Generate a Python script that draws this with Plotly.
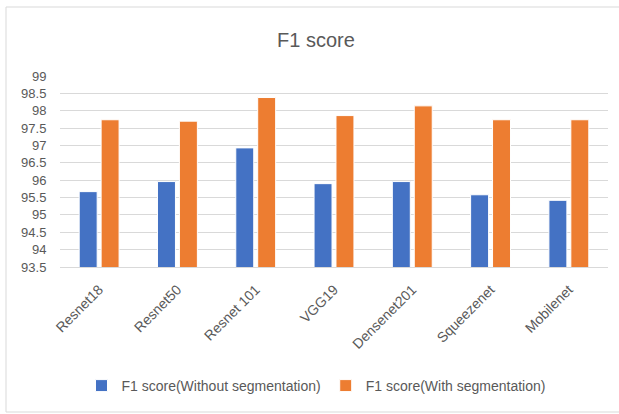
import plotly.graph_objects as go

models = ["Resnet18", "Resnet50", "Resnet 101", "VGG19", "Densenet201", "Squeezenet", "Mobilenet"]
f1_without_seg = [95.67, 95.96, 96.93, 95.90, 95.96, 95.58, 95.42]
f1_with_seg = [97.74, 97.70, 98.38, 97.86, 98.14, 97.74, 97.74]

W, H = 619, 414
ml, mr, mt, mb = 60, 11, 76, 147
font = "Liberation Sans"
grey = "#595959"
frame = "#D9D9D9"

fig = go.Figure()
fig.add_trace(go.Bar(
    x=models, y=f1_without_seg, name="F1 score(Without segmentation)",
    marker=dict(color="#4472C4", line=dict(color="#FFFFFF", width=1)),
))
fig.add_trace(go.Bar(
    x=models, y=f1_with_seg, name="F1 score(With segmentation)",
    marker=dict(color="#ED7D31", line=dict(color="#FFFFFF", width=1)),
))

pw = W - ml - mr
ph = H - mt - mb

# chart-area frame (top, left and bottom edges; right edge lies beyond the view)
fx0, fx1 = (6 - ml) / pw, (W + 30 - ml) / pw
fy0, fy1 = (mt + ph - 412) / ph, (mt + ph - 7) / ph
frame_lines = [
    dict(x0=fx0, x1=fx1, y0=fy1, y1=fy1),
    dict(x0=fx0, x1=fx1, y0=fy0, y1=fy0),
    dict(x0=fx0, x1=fx0, y0=fy0, y1=fy1),
]
shapes = [dict(type="line", xref="paper", yref="paper", layer="below",
               line=dict(color=frame, width=1), **s) for s in frame_lines]

fig.update_layout(
    width=W, height=H,
    margin=dict(l=ml, r=mr, t=mt, b=mb),
    paper_bgcolor="white", plot_bgcolor="white",
    barmode="group", bargap=0.44, bargroupgap=0.18,
    font=dict(family=font, color=grey, size=13),
    title=dict(text="F1 score", font=dict(family=font, size=20, color=grey),
               x=(316 - ml) / pw, xref="paper", xanchor="center",
               y=1 - 40 / H, yref="container", yanchor="middle"),
    legend=dict(orientation="h", x=(316 - ml) / pw, xanchor="center",
                y=(mt + ph - 386) / ph, yanchor="middle",
                font=dict(size=14, color=grey), itemwidth=30,
                traceorder="normal"),
    xaxis=dict(tickangle=-45, showgrid=False, showline=True, linecolor=frame,
               linewidth=1, ticks="outside", ticklen=8, tickcolor="rgba(0,0,0,0)",
               tickfont=dict(size=14, color=grey)),
    yaxis=dict(range=[93.5, 99], dtick=0.5, showgrid=True, gridcolor=frame,
               gridwidth=1, zeroline=False, showline=False,
               ticks="outside", ticklen=10, tickcolor="rgba(0,0,0,0)",
               tickfont=dict(size=13, color=grey)),
    shapes=shapes,
)

fig.write_html("out.html")
